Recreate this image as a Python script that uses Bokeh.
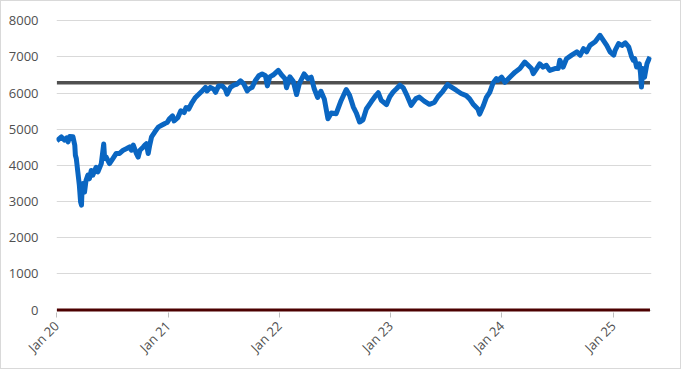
import math
import pandas as pd
from bokeh.plotting import figure
from bokeh.models import Range1d, FixedTicker
from bokeh.embed import file_html
from bokeh.resources import INLINE

dates = [
    "2020-01-02", "2020-01-17", "2020-01-27", "2020-02-03", "2020-02-08", "2020-02-13",
    "2020-02-24", "2020-03-01", "2020-03-03", "2020-03-06", "2020-03-11", "2020-03-16",
    "2020-03-20", "2020-03-23", "2020-03-25", "2020-03-28", "2020-04-02", "2020-04-07",
    "2020-04-13", "2020-04-18", "2020-04-24", "2020-04-29", "2020-05-10", "2020-05-16",
    "2020-05-27", "2020-06-04", "2020-06-07", "2020-06-12", "2020-06-23", "2020-07-04",
    "2020-07-15", "2020-07-26", "2020-08-07", "2020-08-17", "2020-08-28", "2020-09-03",
    "2020-09-09", "2020-09-19", "2020-09-25", "2020-10-01", "2020-10-12", "2020-10-17",
    "2020-10-22", "2020-10-28", "2020-11-02", "2020-11-08", "2020-11-19", "2020-11-30",
    "2020-12-11", "2020-12-22", "2020-12-29",
    "2021-01-05", "2021-01-16", "2021-01-21", "2021-02-02", "2021-02-12", "2021-02-23",
    "2021-03-01", "2021-03-10", "2021-03-21", "2021-04-01", "2021-04-12", "2021-04-23",
    "2021-05-04", "2021-05-09", "2021-05-20", "2021-05-31", "2021-06-06", "2021-06-16",
    "2021-06-28", "2021-07-08", "2021-07-14", "2021-07-25", "2021-08-05", "2021-08-16",
    "2021-08-27", "2021-09-07", "2021-09-18", "2021-09-23", "2021-10-04", "2021-10-15",
    "2021-10-26", "2021-11-06", "2021-11-17", "2021-11-23", "2021-12-01", "2021-12-12",
    "2021-12-29",
    "2022-01-09", "2022-01-20", "2022-01-25", "2022-02-05", "2022-02-16", "2022-02-27",
    "2022-03-08", "2022-03-24", "2022-04-05", "2022-04-16", "2022-04-26", "2022-05-07",
    "2022-05-18", "2022-05-29", "2022-06-10", "2022-06-21", "2022-07-07", "2022-07-23",
    "2022-08-09", "2022-08-20", "2022-09-01", "2022-09-11", "2022-09-22", "2022-10-03",
    "2022-10-14", "2022-10-30", "2022-11-11", "2022-11-22", "2022-12-02", "2022-12-19",
    "2022-12-30",
    "2023-01-10", "2023-01-21", "2023-02-01", "2023-02-12", "2023-02-23", "2023-03-10",
    "2023-03-26", "2023-04-06", "2023-04-22", "2023-05-09", "2023-05-25", "2023-06-06",
    "2023-06-22", "2023-07-08", "2023-07-19", "2023-08-05", "2023-08-21", "2023-09-07",
    "2023-09-18", "2023-09-29", "2023-10-15", "2023-10-21", "2023-11-02", "2023-11-12",
    "2023-11-23", "2023-12-04", "2023-12-15", "2023-12-20",
    "2024-01-01", "2024-01-12", "2024-01-28", "2024-02-14", "2024-03-01", "2024-03-17",
    "2024-03-28", "2024-04-08", "2024-04-14", "2024-04-25", "2024-05-05", "2024-05-16",
    "2024-05-27", "2024-06-07", "2024-06-24", "2024-07-05", "2024-07-10", "2024-07-21",
    "2024-08-01", "2024-08-18", "2024-09-04", "2024-09-15", "2024-09-26", "2024-10-06",
    "2024-10-17", "2024-11-03", "2024-11-19", "2024-11-30", "2024-12-11", "2024-12-22",
    "2025-01-03", "2025-01-08", "2025-01-19", "2025-01-30", "2025-02-10", "2025-02-21",
    "2025-03-03", "2025-03-08", "2025-03-13", "2025-03-19", "2025-03-28", "2025-04-01",
    "2025-04-04", "2025-04-08", "2025-04-14", "2025-04-22", "2025-04-29", "2025-05-02",
]
values = [
    4680, 4790, 4700, 4760, 4650, 4800,
    4790, 4560, 4280, 4190, 3820, 3450,
    2990, 2900, 3350, 3500, 3260, 3590,
    3730, 3630, 3860, 3730, 3950, 3820,
    4050, 4590, 4190, 4230, 4050, 4190,
    4330, 4330, 4420, 4460, 4510, 4420,
    4560, 4330, 4230, 4420, 4510, 4560,
    4600, 4330, 4560, 4790, 4930, 5060,
    5110, 5160, 5185,
    5280, 5370, 5230, 5320, 5510, 5460,
    5600, 5560, 5740, 5880, 5970, 6060,
    6160, 6060, 6160, 6110, 6020, 6200,
    6200, 6110, 5970, 6160, 6220, 6250,
    6340, 6250, 6060, 6110, 6160, 6350,
    6480, 6530, 6480, 6200, 6450, 6500,
    6630,
    6500, 6400, 6150, 6450, 6330, 5960,
    6260, 6530, 6400, 6440, 6120, 5880,
    6050, 5840, 5290, 5450, 5430, 5790,
    6100, 5940, 5620, 5450, 5200, 5260,
    5560, 5760, 5900, 6010, 5800, 5680,
    5900,
    6030, 6120, 6220, 6150, 5960, 5660,
    5850, 5890, 5780, 5690, 5740, 5900,
    6050, 6240, 6170, 6080, 5990, 5930,
    5840, 5700, 5560, 5420, 5650, 5880,
    6020, 6280, 6400, 6350,
    6440, 6300, 6440, 6580, 6680, 6860,
    6770, 6680, 6540, 6680, 6810, 6720,
    6770, 6630, 6680, 6680, 6910, 6720,
    6950, 7050, 7140, 7050, 7230, 7140,
    7320, 7420, 7600, 7460, 7320, 7140,
    7050, 7190, 7370, 7320, 7390, 7280,
    7000, 6910, 6950, 6720, 6810, 6550,
    6170, 6680, 6440, 6810, 6950, 7000,
]
reference_level = 6290
baseline = 0
tick_dates = ["2020-01-01", "2021-01-01", "2022-01-01", "2023-01-01", "2024-01-01", "2025-01-01"]
tick_labels = ["Jan 20", "Jan 21", "Jan 22", "Jan 23", "Jan 24", "Jan 25"]
y_ticks = [0, 1000, 2000, 3000, 4000, 5000, 6000, 7000, 8000]

x = pd.to_datetime(dates)
x_start = pd.Timestamp("2020-01-01")
x_end = pd.Timestamp("2025-05-07")

p = figure(
    width=681, height=369,
    x_axis_type="datetime",
    x_range=Range1d(x_start, x_end),
    y_range=Range1d(-69, 8064),
    output_backend="svg", toolbar_location=None,
    min_border_left=55, min_border_right=31, min_border_top=17, min_border_bottom=58,
)
p.outline_line_color = None
p.background_fill_color = "white"
p.border_fill_color = "white"
p.styles = {"border": "1px solid #d9d9d9", "box-sizing": "border-box"}

# grid
p.xgrid.grid_line_color = None
p.ygrid.grid_line_color = "#d9d9d9"
p.ygrid.grid_line_width = 1

# y axis
p.yaxis.ticker = FixedTicker(ticks=y_ticks)
p.yaxis.axis_line_color = None
p.yaxis.major_tick_line_color = None
p.yaxis.minor_tick_line_color = None
p.yaxis.major_label_standoff = 12
p.yaxis.major_label_text_font = "Open Sans"
p.yaxis.major_label_text_font_size = "13px"
p.yaxis.major_label_text_color = "#505050"

# x axis
tick_ms = [pd.Timestamp(d).timestamp() * 1000 for d in tick_dates]
p.xaxis.ticker = FixedTicker(ticks=tick_ms)
p.xaxis.major_label_overrides = {t: lab for t, lab in zip(tick_ms, tick_labels)}
p.xaxis.major_label_orientation = math.pi / 4
p.xaxis.axis_line_color = None
p.xaxis.major_tick_line_color = "#bfbfbf"
p.xaxis.major_tick_out = 5
p.xaxis.major_tick_in = 0
p.xaxis.minor_tick_line_color = None
p.xaxis.major_label_standoff = 6
p.xaxis.major_label_text_font = "Open Sans"
p.xaxis.major_label_text_font_size = "13px"
p.xaxis.major_label_text_color = "#505050"

# series
p.line([x[0], x[-1]], [baseline, baseline], line_color="#4d0000", line_width=3)
p.line([x[0], x[-1]], [reference_level, reference_level], line_color="#505050", line_width=3.5)
p.line(x, values, line_color="#0a66c2", line_width=5, line_join="round")

open("out.html", "w").write(file_html(p, INLINE))
